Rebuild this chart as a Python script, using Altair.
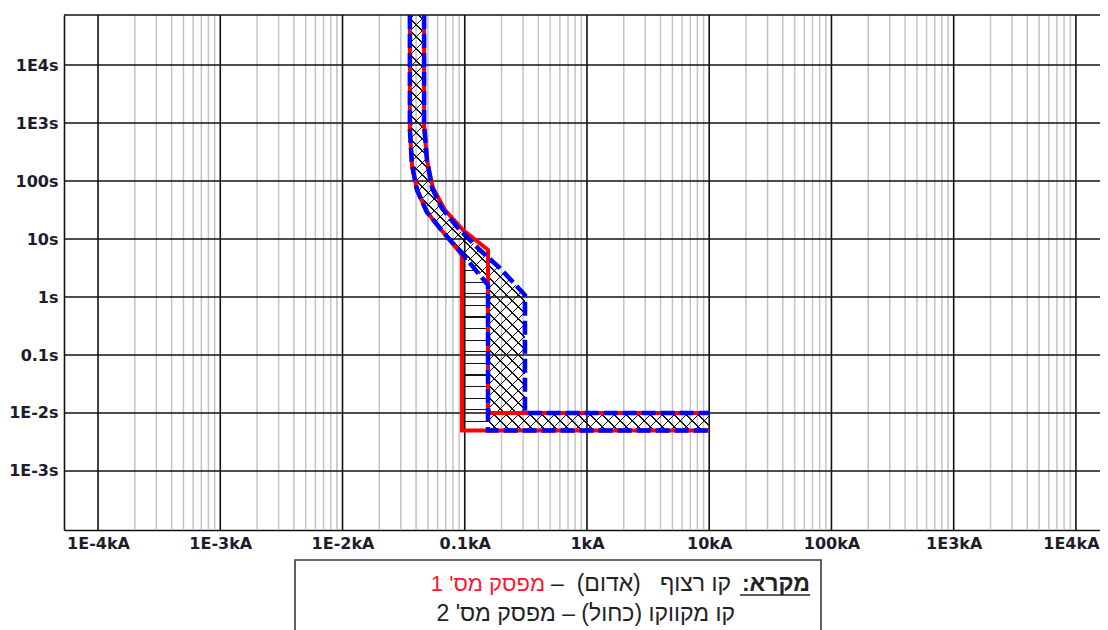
import json
import math
import altair as alt
import pandas as pd

# ---------------- axis ticks ----------------
x_ticks = [1e-4, 1e-3, 1e-2, 0.1, 1, 10, 100, 1e3, 1e4]
x_labels = ["1E-4kA", "1E-3kA", "1E-2kA", "0.1kA", "1kA", "10kA", "100kA", "1E3kA", "1E4kA"]
y_ticks = [1e-3, 1e-2, 0.1, 1, 10, 100, 1e3, 1e4]
y_labels = ["1E-3s", "1E-2s", "0.1s", "1s", "10s", "100s", "1E3s", "1E4s"]
minor_multipliers = [2, 3, 4, 5, 6, 7, 8, 9]
minor_decades = [1e-4, 1e-3, 1e-2, 0.1, 1, 10, 100, 1e3]

x_domain = [5.267e-5, 1.574e4]
y_domain = [9.6e-5, 7.3e4]

# ---------------- curves (current kA, time s) ----------------
T_TOP = 7.3e4
# breaker 1 (red, solid)
b1_min_current = [0.0356, 0.0356, 0.0370, 0.0407, 0.0490, 0.0664, 0.095, 0.095, 10]
b1_min_time = [T_TOP, 757, 189, 70, 29.2, 13.2, 5.3, 0.005, 0.005]
b1_max_current = [0.0465, 0.0465, 0.0491, 0.0550, 0.0689, 0.097, 0.155, 0.155, 10]
b1_max_time = [T_TOP, 925, 230, 75.7, 31.6, 14.3, 6.46, 0.01, 0.01]
# breaker 2 (blue, dashed)
b2_min_current = [0.0356, 0.0356, 0.0370, 0.0407, 0.0490, 0.0664, 0.093, 0.155, 0.155, 10]
b2_min_time = [T_TOP, 757, 189, 70, 29.2, 13.2, 5.97, 1.61, 0.005, 0.005]
b2_max_current = [0.0465, 0.0465, 0.0491, 0.054, 0.065, 0.088, 0.133, 0.194, 0.311, 0.311, 10]
b2_max_time = [T_TOP, 925, 230, 75.7, 34.2, 15.5, 6.46, 3.16, 1.08, 0.01, 0.01]

# ---------------- legend text ----------------
RLM = "\u200f"
legend_title = "מקרא:"
legend_line1_mid = "קו רצוף\u00a0\u00a0 (אדום)\u00a0 –"
legend_line1_red = "מפסק מס' 1"
legend_line2 = "קו מקווקו (כחול) – מפסק מס' 2"

# ---------------- layout ----------------
W, H = 1036, 515
LX0, LX1 = math.log10(x_domain[0]), math.log10(x_domain[1])
LY0, LY1 = math.log10(y_domain[0]), math.log10(y_domain[1])


def px(v):
    return (math.log10(v) - LX0) / (LX1 - LX0) * W


def py(v):
    return (LY1 - math.log10(v)) / (LY1 - LY0) * H


CLEAR = "rgba(0,0,0,0)"
INK = "#151515"


def stripe_stops(positions, total, half):
    stops = []
    last = 0.0
    for p in positions:
        a = max(last, (p - half) / total)
        b = min(1.0, (p + half) / total)
        if b <= a:
            continue
        stops += [
            {"offset": a, "color": CLEAR},
            {"offset": a, "color": INK},
            {"offset": b, "color": INK},
            {"offset": b, "color": CLEAR},
        ]
        last = b
    return stops


# red-only region (horizontal hatching): lower part between breaker-1 min and breaker-2 min
red_pts = [(c, t) for c, t in zip(b1_min_current, b1_min_time) if t < 10]
red_pts += list(reversed([(c, t) for c, t in zip(b2_min_current, b2_min_time) if t < 10]))
poly_red = pd.DataFrame({"c": [p[0] for p in red_pts], "t": [p[1] for p in red_pts],
                         "i": list(range(len(red_pts)))})
ry = [py(t) for _, t in red_pts]
ry0, ry1 = min(ry), max(ry)
rh = ry1 - ry0
hpos = []
y = 7.0
while y < rh:
    hpos.append(y)
    y += 11.6
hgrad = {"gradient": "linear", "x1": 0, "y1": 0, "x2": 0, "y2": 1,
         "stops": stripe_stops(hpos, rh, 0.6)}

# breaker 2 band (cross hatching)
blue_pts = list(zip(b2_min_current, b2_min_time)) + list(reversed(list(zip(b2_max_current, b2_max_time))))
poly_blue = pd.DataFrame({"c": [p[0] for p in blue_pts], "t": [p[1] for p in blue_pts],
                          "i": list(range(len(blue_pts)))})
bx = [px(c) for c, _ in blue_pts]
by = [py(t) for _, t in blue_pts]
bw = max(bx) - min(bx)
bh = max(by) - min(by)
s = (bw + bh) / (bw * bw + bh * bh)
cpos = []
cc = 4.0
while cc < bw + bh:
    cpos.append(cc)
    cc += 12.0
cstops = stripe_stops(cpos, bw + bh, 0.7)
cgrad1 = {"gradient": "linear", "x1": 0, "y1": 0, "x2": s * bw, "y2": s * bh, "stops": cstops}
cgrad2 = {"gradient": "linear", "x1": 0, "y1": 1, "x2": s * bw, "y2": 1 - s * bh, "stops": cstops}

# ---------------- scales / axes ----------------
LABEL_FONT = "DejaVu Sans"
LABEL_COLOR = "#1c1c2c"
xscale = alt.Scale(type="log", domain=x_domain, nice=False)
yscale = alt.Scale(type="log", domain=y_domain, nice=False)
xaxis = alt.Axis(values=x_ticks, labelExpr=f"{json.dumps(x_labels)}[round(log(datum.value) / LN10) + 4]",
                 grid=False, ticks=False, domain=True, domainColor="#111111", domainWidth=1.6,
                 labelFont=LABEL_FONT, labelFontSize=16, labelFontWeight="bold", labelColor=LABEL_COLOR,
                 labelPadding=5, labelOverlap=False, labelFlush=False, title=None,
                 labelOffset={"condition": {"test": "datum.value > 5000", "value": -5}, "value": 0})
yaxis = alt.Axis(values=y_ticks, labelExpr=f"{json.dumps(y_labels)}[round(log(datum.value) / LN10) + 3]",
                 grid=False, ticks=False, domain=True, domainColor="#111111", domainWidth=1.6,
                 labelFont=LABEL_FONT, labelFontSize=16, labelFontWeight="bold", labelColor=LABEL_COLOR,
                 labelPadding=6, labelOverlap=False, labelFlush=False, title=None)


def xenc(f):
    return alt.X(f, type="quantitative", scale=xscale, axis=xaxis)


def yenc(f):
    return alt.Y(f, type="quantitative", scale=yscale, axis=yaxis)


minor_vals = [m * d for d in minor_decades for m in minor_multipliers if x_domain[0] <= m * d <= x_domain[1]]

minor_rules = alt.Chart(pd.DataFrame({"v": minor_vals})).mark_rule(
    color="#c4c4c4", strokeWidth=1.5).encode(x=xenc("v"))
major_x = alt.Chart(pd.DataFrame({"v": x_ticks})).mark_rule(
    color="#111111", strokeWidth=1.6).encode(x=xenc("v"))
major_y = alt.Chart(pd.DataFrame({"v": y_ticks})).mark_rule(
    color="#111111", strokeWidth=1.6).encode(y=yenc("v"))
top_border = alt.Chart(pd.DataFrame({"k": [0]})).mark_rule(
    color="#111111", strokeWidth=1.6).encode(x=alt.value(0), x2=alt.value(W), y=alt.value(0))

red_hatch = alt.Chart(poly_red).mark_line(filled=True, fill=hgrad, strokeWidth=0).encode(
    x=xenc("c"), y=yenc("t"), order=alt.Order("i:Q"))
cross1 = alt.Chart(poly_blue).mark_line(filled=True, fill=cgrad1, strokeWidth=0).encode(
    x=xenc("c"), y=yenc("t"), order=alt.Order("i:Q"))
cross2 = alt.Chart(poly_blue).mark_line(filled=True, fill=cgrad2, strokeWidth=0).encode(
    x=xenc("c"), y=yenc("t"), order=alt.Order("i:Q"))


def curve_frame(pairs):
    rows = []
    for name, cur, tim in pairs:
        for i, (c, t) in enumerate(zip(cur, tim)):
            rows.append({"s": name, "c": c, "t": t, "i": i})
    return pd.DataFrame(rows)


red_df = curve_frame([("min", b1_min_current, b1_min_time), ("max", b1_max_current, b1_max_time)])
blue_df = curve_frame([("min", b2_min_current, b2_min_time), ("max", b2_max_current, b2_max_time)])

red_lines = alt.Chart(red_df).mark_line(color="#ff0000", strokeWidth=4, strokeJoin="miter").encode(
    x=xenc("c"), y=yenc("t"), detail=alt.Detail("s:N"), order=alt.Order("i:Q"))
blue_lines = alt.Chart(blue_df).mark_line(color="#0000ff", strokeWidth=4.5, strokeDash=[14, 5],
                                          strokeJoin="miter").encode(
    x=xenc("c"), y=yenc("t"), detail=alt.Detail("s:N"), order=alt.Order("i:Q"))

# ---------------- legend box ----------------
HEB_FONT = "Liberation Sans"
legend_box = alt.Chart(pd.DataFrame({"k": [0]})).mark_rect(
    filled=False, color="#3a3a3a", strokeWidth=1.6).encode(
    x=alt.value(231), x2=alt.value(757), y=alt.value(545), y2=alt.value(650))


def text_layer(txt, xr, yb, color="#222222", weight="normal", size=23):
    return alt.Chart(pd.DataFrame({"txt": [RLM + txt + RLM]})).mark_text(
        align="right", baseline="alphabetic", font=HEB_FONT, fontSize=size, fontWeight=weight,
        color=color).encode(x=alt.value(xr), y=alt.value(yb), text=alt.Text("txt:N"))


t_title = text_layer(legend_title, 746, 576, weight="bold")
t_mid = text_layer(legend_line1_mid, 667, 576)
t_red = text_layer(legend_line1_red, 481, 576, color="#ff1530", size=22)
t_line2 = text_layer(legend_line2, 671, 606)
underline = alt.Chart(pd.DataFrame({"k": [0]})).mark_rule(color="#222222", strokeWidth=1.5).encode(
    x=alt.value(676), x2=alt.value(746), y=alt.value(580))

chart = alt.layer(
    minor_rules, major_x, major_y, top_border,
    red_hatch, cross1, cross2,
    red_lines, blue_lines,
    legend_box, t_title, t_mid, t_red, t_line2, underline,
).properties(
    width=W, height=H,
    padding={"left": 56, "top": 7, "right": 0, "bottom": 100},
    autosize=alt.AutoSizeParams(type="none"),
).configure_view(stroke=None)

chart.save("out.html", embed_options={"renderer": "svg", "actions": False})
